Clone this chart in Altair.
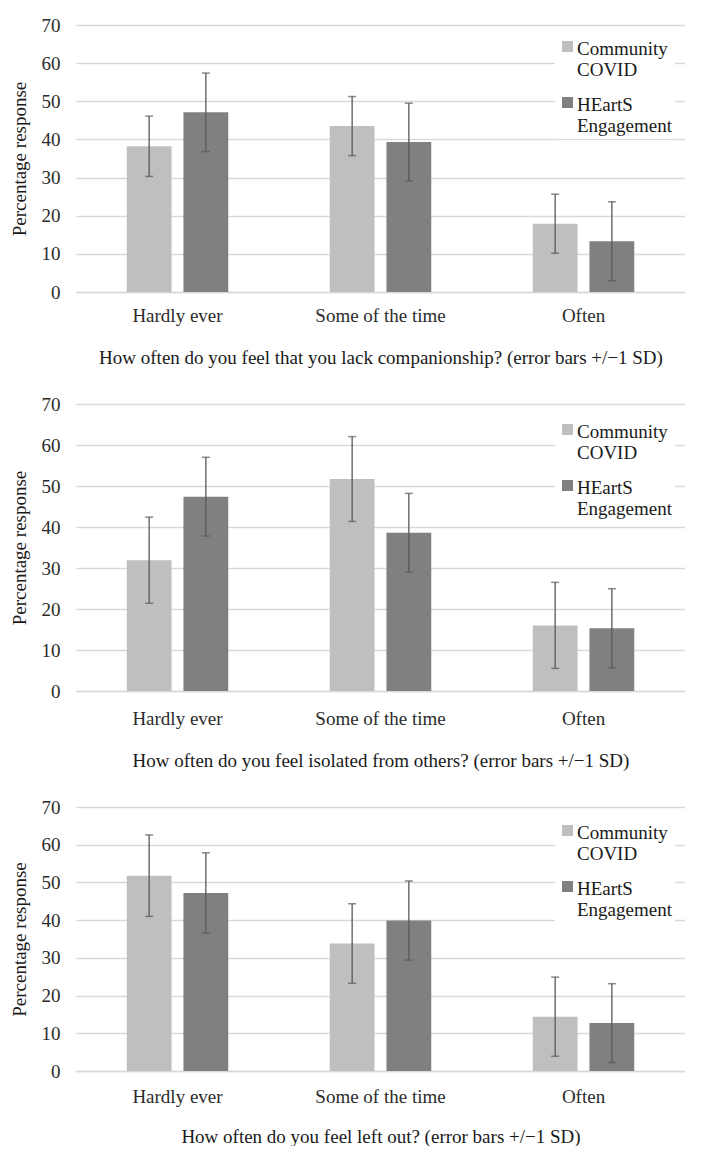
import altair as alt
import pandas as pd

categories = ["Hardly ever", "Some of the time", "Often"]
series = ["Community COVID", "HEartS Engagement"]

# Panel 1: lack companionship
p1_community = [38.2, 43.5, 17.9]
p1_community_sd = [7.9, 7.75, 7.75]
p1_hearts = [47.1, 39.3, 13.3]
p1_hearts_sd = [10.3, 10.2, 10.35]

# Panel 2: isolated from others
p2_community = [31.9, 51.7, 16.0]
p2_community_sd = [10.5, 10.35, 10.5]
p2_hearts = [47.4, 38.6, 15.3]
p2_hearts_sd = [9.6, 9.6, 9.65]

# Panel 3: left out
p3_community = [51.8, 33.8, 14.4]
p3_community_sd = [10.8, 10.55, 10.5]
p3_hearts = [47.2, 39.9, 12.7]
p3_hearts_sd = [10.65, 10.5, 10.45]

y_ticks = [0, 10, 20, 30, 40, 50, 60, 70]

titles = [
    "How often do you feel that you lack companionship? (error bars +/\u22121 SD)",
    "How often do you feel isolated from others? (error bars +/\u22121 SD)",
    "How often do you feel left out? (error bars +/\u22121 SD)",
]

FONT = "Liberation Serif"
COLORS = ["#bfbfbf", "#808080"]
# square symbol shifted down so it lines up with the first label line
SYMBOL = "M-1,0.27L1,0.27L1,2.27L-1,2.27Z"


def make_df(c, csd, h, hsd):
    rows = []
    for i, cat in enumerate(categories):
        rows.append({"cat": cat, "series": series[0], "v": c[i],
                     "lo": c[i] - csd[i], "hi": c[i] + csd[i]})
        rows.append({"cat": cat, "series": series[1], "v": h[i],
                     "lo": h[i] - hsd[i], "hi": h[i] + hsd[i]})
    return pd.DataFrame(rows)


def panel(df, title, height, legend_y, label_pad, title_pad):
    x_axis = alt.Axis(title=title, labelAngle=0, ticks=False, tickSize=0,
                      domain=True, domainColor="#d9d9d9", domainWidth=1.5,
                      labelPadding=label_pad, titlePadding=title_pad,
                      labelFont=FONT, labelFontSize=19, labelColor="#2b2b2b",
                      titleFont=FONT, titleFontSize=19, titleFontWeight="normal",
                      titleColor="#1a1a1a")
    y_axis = alt.Axis(title="Percentage response", values=y_ticks,
                      labelOverlap=False,
                      ticks=False, tickSize=0, domain=False,
                      grid=True, gridColor="#d9d9d9", gridWidth=1.5,
                      labelPadding=16, titlePadding=12,
                      labelFont=FONT, labelFontSize=19, labelColor="#2b2b2b",
                      titleFont=FONT, titleFontSize=19, titleFontWeight="normal",
                      titleColor="#1a1a1a")
    x_scale = alt.Scale(paddingInner=0.5, paddingOuter=0.25)
    xo_scale = alt.Scale(paddingInner=0.21, paddingOuter=0)
    y_scale = alt.Scale(domain=[0, 70])

    def X():
        return alt.X("cat:N", sort=categories, scale=x_scale, axis=x_axis)

    def XO():
        return alt.XOffset("series:N", sort=series, scale=xo_scale)

    bars = alt.Chart(df).mark_bar().encode(
        x=X(), xOffset=XO(),
        y=alt.Y("v:Q", scale=y_scale, axis=y_axis),
        color=alt.Color("series:N", sort=series,
                        scale=alt.Scale(domain=series, range=COLORS),
                        legend=alt.Legend(title=None, orient="none",
                                          legendX=479, legendY=legend_y,
                                          symbolType=SYMBOL, symbolSize=121,
                                          symbolStrokeWidth=0,
                                          labelFont=FONT, labelFontSize=19,
                                          labelColor="#1a1a1a",
                                          labelLimit=300, labelOffset=0,
                                          labelBaseline="top",
                                          labelExpr="split(datum.label, ' ')",
                                          rowPadding=6, padding=3,
                                          fillColor="white")),
    )
    rules = alt.Chart(df).mark_rule(color="#595959", strokeWidth=1.3).encode(
        x=X(), xOffset=XO(),
        y=alt.Y("lo:Q", scale=y_scale, axis=y_axis), y2="hi:Q",
    )
    caps_hi = alt.Chart(df).mark_tick(color="#595959", thickness=1.5, size=8).encode(
        x=X(), xOffset=XO(),
        y=alt.Y("hi:Q", scale=y_scale, axis=y_axis),
    )
    caps_lo = alt.Chart(df).mark_tick(color="#595959", thickness=1.5, size=8).encode(
        x=X(), xOffset=XO(),
        y=alt.Y("lo:Q", scale=y_scale, axis=y_axis),
    )
    return alt.layer(bars, rules, caps_hi, caps_lo).properties(width=609, height=height)


df1 = make_df(p1_community, p1_community_sd, p1_hearts, p1_hearts_sd)
df2 = make_df(p2_community, p2_community_sd, p2_hearts, p2_hearts_sd)
df3 = make_df(p3_community, p3_community_sd, p3_hearts, p3_hearts_sd)

chart = alt.vconcat(
    panel(df1, titles[0], 267, 2, 14, 23),
    panel(df2, titles[1], 287, 6, 18, 23),
    panel(df3, titles[2], 264, 4, 16, 21),
    spacing=28,
).resolve_legend(color="independent").resolve_scale(color="independent").properties(
    padding={"left": 2, "top": 8, "right": 0, "bottom": 0}
).configure_view(stroke=None)

chart.save("out.html", embed_options={"renderer": "svg", "actions": False})
